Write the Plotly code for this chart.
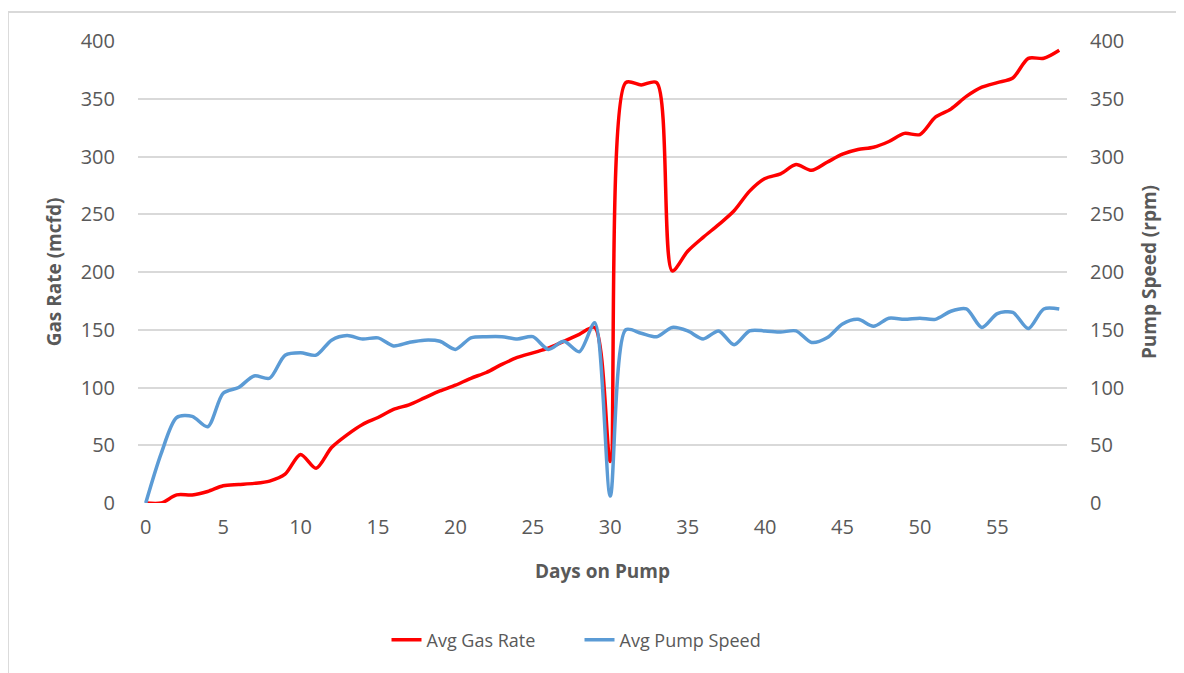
import plotly.graph_objects as go

days = list(range(60))

gas_rate = [0, 0, 7, 7, 10, 15, 16, 17, 19, 25,
            42, 30, 48, 59, 68, 74, 81, 85, 91, 97,
            102, 108, 113, 120, 126, 130, 134, 140, 146, 152,
            36, 364, 362, 364, 201, 218, 230, 241, 253, 270,
            281, 285, 293, 288, 295, 302, 306, 308, 313, 320,
            319, 334, 341, 352, 360, 364, 368, 385, 385, 392]

pump_speed = [0, 43, 74, 75, 66, 95, 100, 110, 108, 128,
              130, 128, 141, 145, 142, 143, 136, 139, 141, 140,
              133, 143, 144, 144, 142, 144, 133, 140, 131, 156,
              6, 150, 147, 144, 152, 149, 142, 149, 137, 149,
              149, 148, 149, 139, 143, 155, 159, 153, 160, 159,
              160, 159, 166, 168, 152, 164, 165, 151, 168, 168]

y_ticks = [0, 50, 100, 150, 200, 250, 300, 350, 400]
x_ticks = [0, 5, 10, 15, 20, 25, 30, 35, 40, 45, 50, 55]

TXT = "#595959"
FONT = "Open Sans"

fig = go.Figure()
fig.add_trace(go.Scatter(
    x=days, y=gas_rate, name="Avg Gas Rate", mode="lines",
    line=dict(color="#FF0000", width=3.5, shape="spline", smoothing=0.8),
    yaxis="y"))
fig.add_trace(go.Scatter(
    x=days, y=pump_speed, name="Avg Pump Speed", mode="lines",
    line=dict(color="#5B9BD5", width=3.5, shape="spline", smoothing=0.8),
    yaxis="y2"))

W, H = 1184, 673
fig.update_layout(
    width=W, height=H,
    margin=dict(l=130, r=125, t=33, b=178),
    paper_bgcolor="white", plot_bgcolor="white",
    font=dict(family=FONT, color=TXT, size=20),
    showlegend=True,
    legend=dict(orientation="h", xref="paper", x=0.2675, xanchor="left",
                yref="container", y=1 - (640 - 8) / H, yanchor="middle",
                font=dict(size=18, color=TXT), tracegroupgap=0,
                entrywidth=148, entrywidthmode="pixels"),
    xaxis=dict(
        range=[-0.5, 59.5], tickmode="array", tickvals=x_ticks,
        showgrid=False, zeroline=False, showline=False,
        ticks="", ticklabelstandoff=10, tickfont=dict(size=20, color=TXT),
        title=dict(text="<b>Days on Pump</b>", font=dict(size=19, color=TXT), standoff=25),
    ),
    yaxis=dict(
        range=[0, 400], tickmode="array", tickvals=y_ticks,
        showgrid=True, gridcolor="#D9D9D9", gridwidth=1.5,
        zeroline=False, showline=False, ticks="", ticklabelstandoff=22,
        tickfont=dict(size=20, color=TXT),
        title=dict(text="<b>Gas Rate (mcfd)</b>", font=dict(size=19, color=TXT), standoff=14),
    ),
    yaxis2=dict(
        range=[0, 400], tickmode="array", tickvals=y_ticks, overlaying="y", side="right",
        showgrid=False, zeroline=False, showline=False, ticks="", ticklabelstandoff=22,
        tickfont=dict(size=20, color=TXT),
        title=dict(text="<b>Pump Speed (rpm)</b>", font=dict(size=19, color=TXT), standoff=19),
    ),
    shapes=[dict(type="path", xref="paper", yref="paper",
                 path="M -0.14,-0.5 L -0.14,1.063 L 1.3,1.063",
                 line=dict(color="#D9D9D9", width=2), layer="below")],
)

fig.write_html("out.html")
